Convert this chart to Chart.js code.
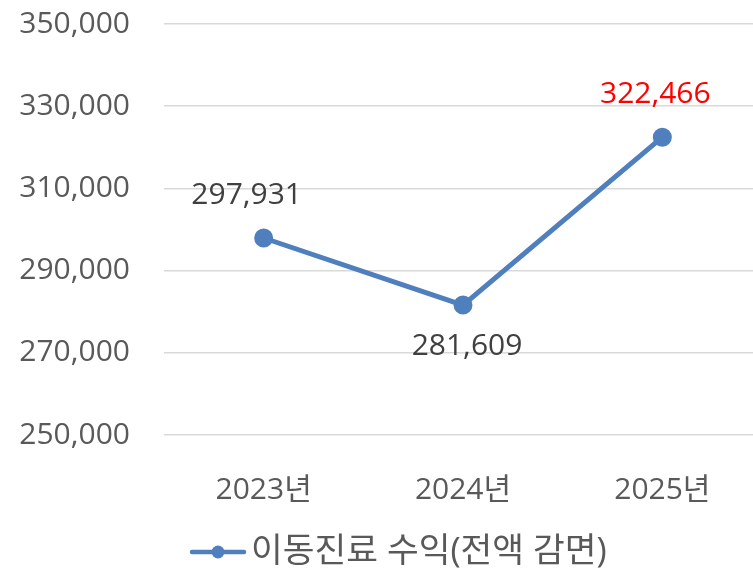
<!DOCTYPE html>
<html>
<head>
<meta charset="utf-8">
<script src="https://cdn.jsdelivr.net/npm/chart.js@4"></script>
<style>
  html, body { margin: 0; padding: 0; background: #fff; overflow: hidden; }
  #wrap { width: 753px; height: 576px; overflow: hidden; }
  #c { display: block; margin-top: -28px; }
</style>
</head>
<body>
<div id="wrap"><canvas id="c" width="774" height="604"></canvas></div>
<script>
const years = ['2023년', '2024년', '2025년'];
const revenue = [297931, 281609, 322466];
const labelPos = ['top', 'bottom', 'top'];
const labelClr = ['#404040', '#404040', '#ff0000'];
const seriesName = '이동진료 수익(전액 감면)';

const fnt = '"Open Sans", "Noto Sans CJK KR", sans-serif';
const blue = '#4f7fbd';
const shiftTop = 28; // canvas is pulled up by this much

// value labels, nudged a bit like the original
const labelDx = [-17, 4, -7];
const valLabels = {
  id: 'valLabels',
  afterDatasetsDraw(chart) {
    const ctx = chart.ctx;
    const meta = chart.getDatasetMeta(0);
    ctx.save();
    ctx.font = '30px ' + fnt;
    ctx.textAlign = 'center';
    ctx.textBaseline = 'middle';
    meta.data.forEach((pt, i) => {
      ctx.fillStyle = labelClr[i];
      let y = labelPos[i] === 'top' ? pt.y - 43 : pt.y + 41;
      ctx.fillText(revenue[i].toLocaleString('en-US'), pt.x + labelDx[i], y);
    });
    ctx.restore();
  }
};

// legend drawn by hand: line with dot, then series name
const ownLegend = {
  id: 'ownLegend',
  afterDraw(chart) {
    const ctx = chart.ctx;
    const y = 552 + shiftTop;
    ctx.save();
    ctx.strokeStyle = blue;
    ctx.lineWidth = 4.5;
    ctx.lineCap = 'round';
    ctx.beginPath(); ctx.moveTo(192, y); ctx.lineTo(244, y); ctx.stroke();
    ctx.fillStyle = blue;
    ctx.beginPath(); ctx.arc(218, y, 6.5, 0, Math.PI * 2); ctx.fill();
    ctx.fillStyle = '#595959';
    ctx.font = '34.5px ' + fnt;
    ctx.textAlign = 'left';
    ctx.textBaseline = 'middle';
    ctx.fillText(seriesName, 251, y);
    ctx.restore();
  }
};

new Chart(document.getElementById('c'), {
  type: 'line',
  data: {
    labels: years,
    datasets: [{
      label: seriesName,
      data: revenue,
      borderColor: blue,
      backgroundColor: blue,
      borderWidth: 5,
      pointRadius: 7,
      pointHoverRadius: 7,
      tension: 0
    }]
  },
  options: {
    responsive: false,
    animation: false,
    layout: { padding: { top: 0, left: 0, right: 0, bottom: 56 } },
    scales: {
      x: {
        offset: true,
        grid: { display: false, drawTicks: false },
        border: { display: false },
        ticks: { color: '#595959', font: { family: fnt, size: 30 }, padding: 37 },
        afterFit: s => { s.height = 85; }
      },
      y: {
        min: 250000,
        max: 350000,
        grid: { color: '#d9d9d9', lineWidth: 1.5, drawTicks: false },
        border: { display: false },
        ticks: {
          stepSize: 20000,
          color: '#595959',
          font: { family: fnt, size: 30 },
          padding: 34,
          callback: v => v.toLocaleString('en-US')
        },
        afterFit: s => { s.width = 164; }
      }
    },
    plugins: {
      legend: { display: false },
      tooltip: { enabled: false }
    }
  },
  plugins: [valLabels, ownLegend]
});
</script>
</body>
</html>
